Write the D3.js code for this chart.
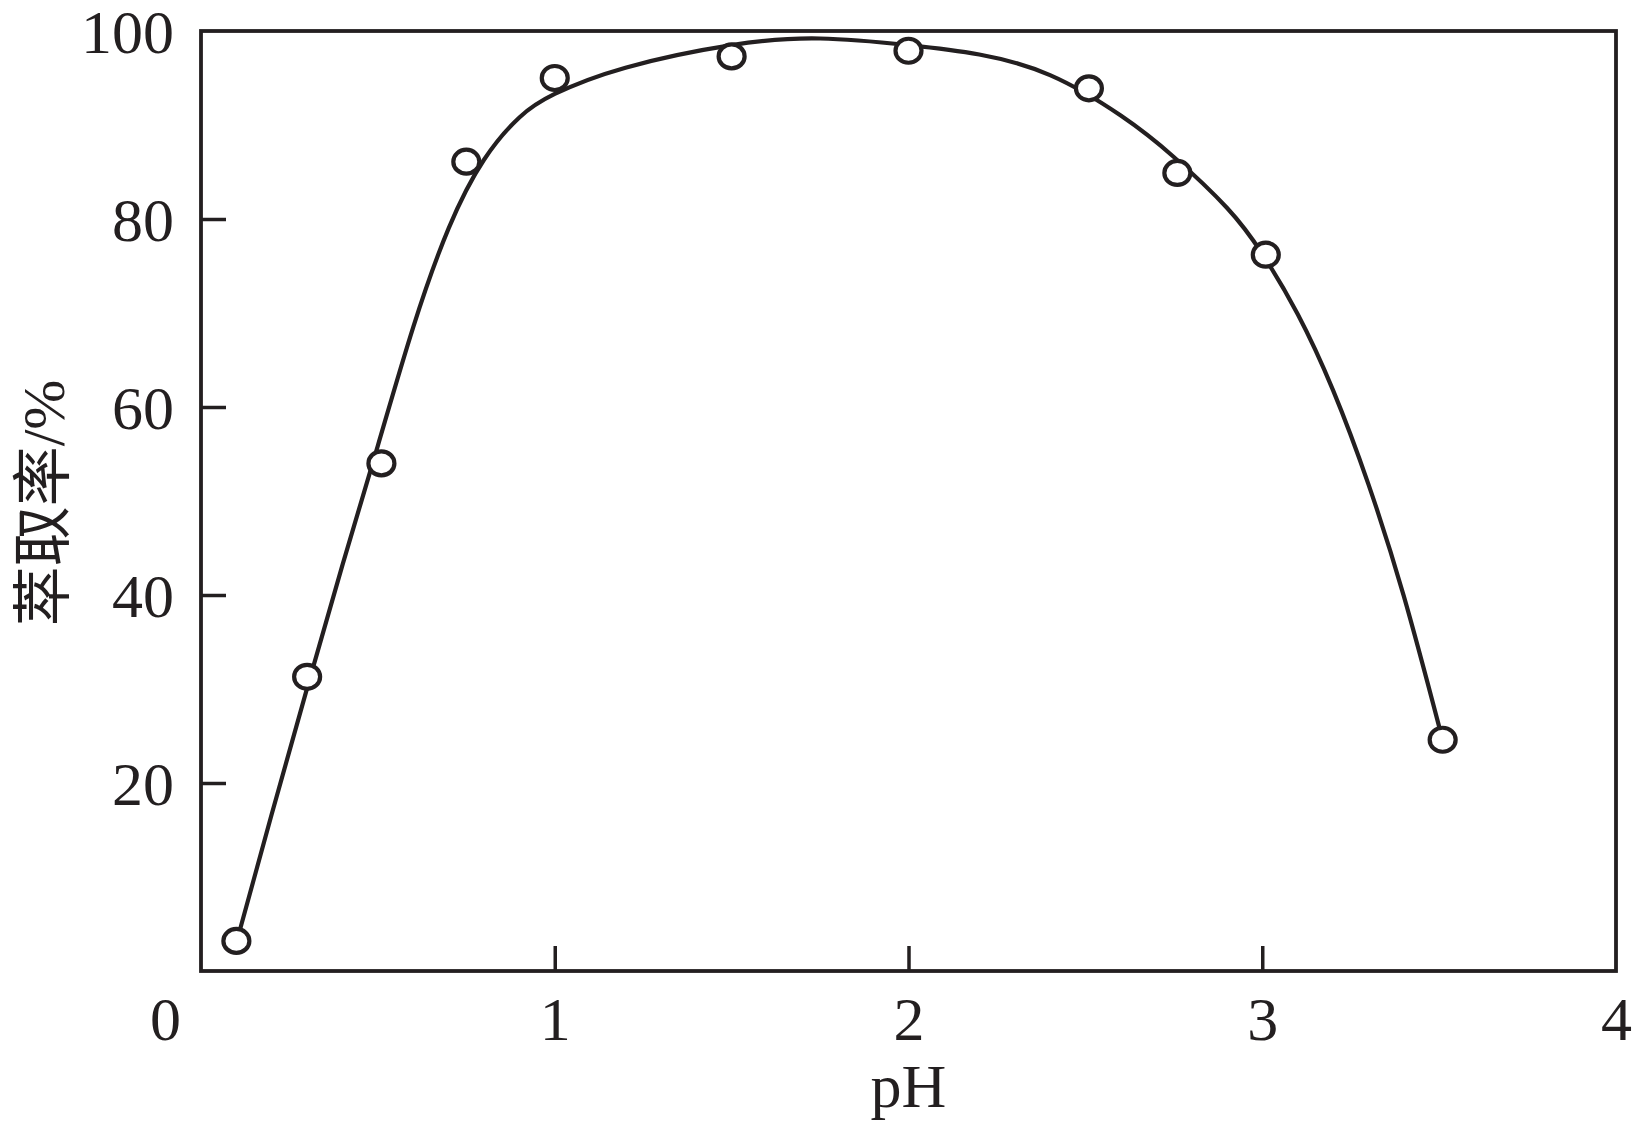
<!DOCTYPE html>
<html>
<head>
<meta charset="utf-8">
<script src="https://cdn.jsdelivr.net/npm/d3@7"></script>
<style>
  body { margin: 0; background: #fff; }
  svg { display: block; }
  text { fill: #231f20; }
</style>
</head>
<body>
<svg id="chart" width="1644" height="1131"></svg>
<script>
// measured points (pH, extraction %)
const pointPH = [0.10, 0.30, 0.51, 0.75, 1.00, 1.50, 2.00, 2.51, 2.76, 3.01, 3.51];
const pointRate = [3.2, 31.3, 54.0, 86.1, 95.0, 97.3, 97.9, 93.9, 84.9, 76.2, 24.6];

// fitted curve as drawn in the figure
const curvePH = [0.1, 0.2, 0.3, 0.4, 0.5, 0.6, 0.7, 0.8, 0.9, 1.0, 1.2, 1.5, 1.75, 2.0, 2.2, 2.4, 2.6, 2.75, 2.9, 3.0, 3.1, 3.2, 3.3, 3.4, 3.5];
const curveRate = [3.0, 16.7, 30.1, 43.2, 55.9, 68.5, 79.0, 86.3, 90.8, 93.3, 96.1, 98.5, 99.2, 98.5, 97.5, 95.3, 91.0, 86.6, 81.2, 76.3, 69.9, 61.8, 51.8, 39.9, 26.0];

const xTicks = [0, 1, 2, 3, 4];
const yTicks = [20, 40, 60, 80, 100];

const ink = '#231f20';
const serif = '"Liberation Serif", "Times New Roman", serif';
const svg = d3.select('#chart');
const plotLeft = 201, plotRight = 1616, plotTop = 31, plotBottom = 971;

const x = d3.scaleLinear().domain([0, 4]).range([plotLeft, plotRight]);
const y = d3.scaleLinear().domain([0, 100]).range([plotBottom, plotTop]);

// x axis, ticks point inward
const gx = svg.append('g')
    .attr('transform', `translate(0,${plotBottom})`)
    .call(d3.axisBottom(x).tickValues(xTicks).tickFormat(d3.format('d'))
        .tickSize(-25).tickPadding(25));
gx.select('.domain').remove();
gx.selectAll('.tick line')
    .attr('stroke', ink).attr('stroke-width', 3.5)
    .attr('display', (d) => (d === 0 || d === 4 ? 'none' : null));
gx.selectAll('.tick text')
    .attr('font-family', serif)
    .attr('font-size', 62)
    .attr('dx', (d) => (d === 0 ? -36 : 0));

// y axis
const gy = svg.append('g')
    .attr('transform', `translate(${plotLeft},0)`)
    .call(d3.axisLeft(y).tickValues(yTicks).tickFormat(d3.format('d'))
        .tickSize(-25).tickPadding(27));
gy.select('.domain').remove();
gy.selectAll('.tick line')
    .attr('stroke', ink).attr('stroke-width', 3.5)
    .attr('display', (d) => (d === 100 ? 'none' : null));
gy.selectAll('.tick text')
    .attr('font-family', serif)
    .attr('font-size', 62)
    .attr('dy', '0.34em');

// frame
svg.append('rect')
    .attr('x', x(0)).attr('y', y(100))
    .attr('width', x(4) - x(0)).attr('height', y(0) - y(100))
    .attr('fill', 'none').attr('stroke', ink).attr('stroke-width', 3.8);

// curve
const curveData = curvePH.map((p, i) => [p, curveRate[i]]);
svg.append('path')
    .datum(curveData)
    .attr('fill', 'none')
    .attr('stroke', ink)
    .attr('stroke-width', 4.2)
    .attr('stroke-linecap', 'round')
    .attr('d', d3.line()
        .x((d) => x(d[0]))
        .y((d) => y(d[1]))
        .curve(d3.curveNatural));

// markers
const pts = pointPH.map((p, i) => ({ ph: p, rate: pointRate[i] }));
svg.append('g').selectAll('ellipse')
    .data(pts)
    .enter()
    .append('ellipse')
    .attr('cx', (d) => x(d.ph))
    .attr('cy', (d) => y(d.rate))
    .attr('rx', 13)
    .attr('ry', 12)
    .attr('fill', '#fff')
    .attr('stroke', ink)
    .attr('stroke-width', 4.2);

// axis titles
svg.append('text')
    .attr('x', (plotLeft + plotRight) / 2)
    .attr('y', 1107)
    .attr('text-anchor', 'middle')
    .attr('font-family', serif)
    .attr('font-size', 62)
    .text('pH');

const yTitle = svg.append('text')
    .attr('transform', 'translate(64,503) rotate(-90)')
    .attr('text-anchor', 'middle')
    .attr('font-size', 60);
yTitle.append('tspan')
    .attr('font-family', '"Noto Sans CJK SC", sans-serif')
    .text('萃取率');
yTitle.append('tspan')
    .attr('font-family', serif)
    .text('/%');
</script>
</body>
</html>
